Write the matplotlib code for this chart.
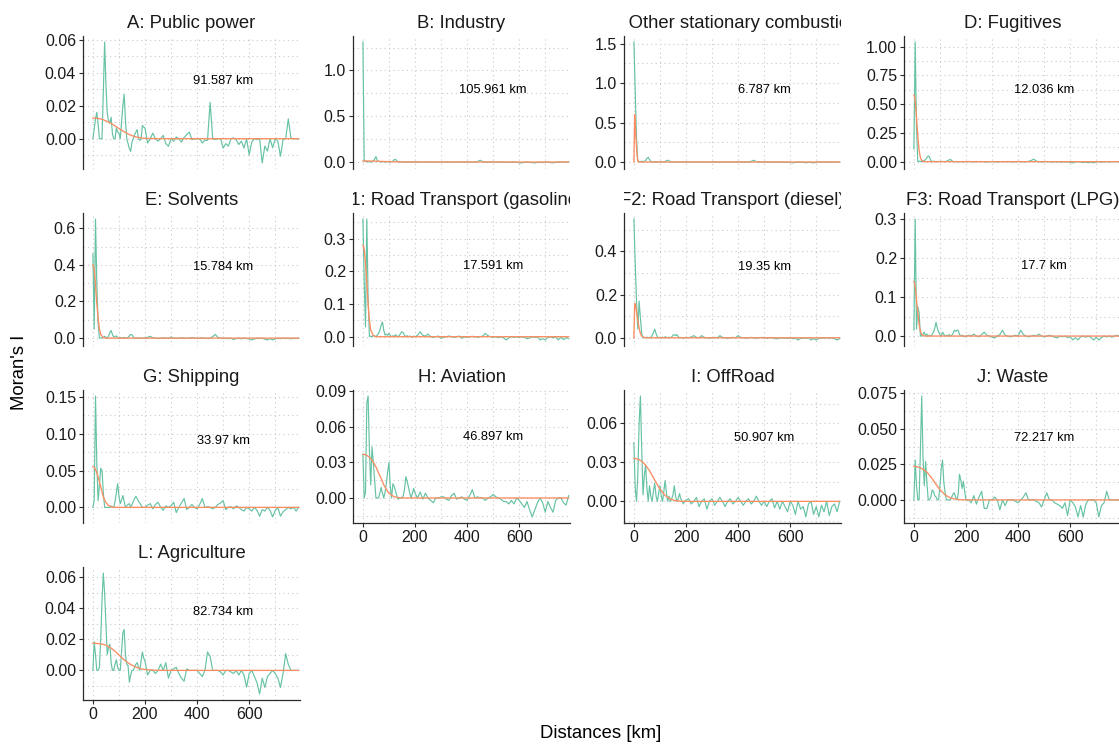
import numpy as np
import matplotlib
matplotlib.use("Agg")
import matplotlib.pyplot as plt
from matplotlib.ticker import FixedLocator

plt.rcParams['font.family'] = ['Liberation Sans', 'DejaVu Sans']

# lag distances (km) of the empirical correlogram
DIST = list(range(0, 201, 5)) + list(range(210, 791, 10))
# distances at which the fitted curve is evaluated
FIT_D = [0, 3, 6, 9, 12, 15, 20, 25, 30, 40, 50, 60, 70, 80, 90, 100,
         120, 140, 160, 180, 200, 250, 790]

TITLES = ["A: Public power", "B: Industry", "C: Other stationary combustion",
          "D: Fugitives", "E: Solvents", "F1: Road Transport (gasoline)",
          "F2: Road Transport (diesel)", "F3: Road Transport (LPG)",
          "G: Shipping", "H: Aviation", "I: OffRoad", "J: Waste",
          "L: Agriculture"]
RANGES = ["91.587", "105.961", "6.787", "12.036", "15.784", "17.591",
          "19.35", "17.7", "33.97", "46.897", "50.907", "72.217", "82.734"]

# Moran's I per lag
moran_A = [0.0, 0.006, 0.012, 0.016, 0.009, 0.0, 0.0, 0.0, 0.028, 0.0586,
           0.033, 0.0155, 0.011, 0.0095, 0.013, 0.003, 0.0, 0.0, 0.0065, 0.004,
           0.0035, 0.0, 0.01, 0.02, 0.027, 0.011, 0.0, -0.003, -0.006, -0.0077,
           -0.002, 0.0, 0.0024, 0.004, 0.0055, 0.0, -0.001, 0.0, 0.008, 0.007, 0.0065,
           -0.0026, 0.0, 0.0034, 0.0, -0.0015, 0.0, 0.002, -0.003, -0.0046, 0.0,
           -0.0015, 0.001, 0.0, -0.002, 0.0008, 0.0024, 0.004, -0.0005, 0.0, 0.0,
           0.0, -0.0026, -0.001, -0.001, 0.022, 0.0, -0.0005, 0.0, 0.0, -0.0057,
           -0.003, -0.0045, 0.0, 0.0005, -0.0005, -0.0035, -0.0015, -0.0057, 0.0, -0.0097,
           -0.002, 0.0, -0.0005, 0.0, -0.0147, -0.0045, -0.0075, 0.0, -0.0055, 0.0,
           -0.0015, -0.0107, -0.0005, 0.0, 0.012, 0.0005, 0.0, 0.0, 0.0]
moran_B = [1.31, 0.01, 0.005, 0.008, 0.003, 0.005, 0.0, 0.004, 0.01, 0.03,
           0.06, 0.02, 0.004, 0.006, 0.0, 0.003, 0.005, 0.0, 0.002, 0.004,
           0.002, 0.0, 0.005, 0.01, 0.025, 0.03, 0.012, 0.002, 0.0, 0.003,
           0.004, 0.0, -0.002, 0.002, 0.0, 0.003, 0.0, -0.002, 0.002, 0.0, 0.001,
           0.002, 0.0, -0.002, 0.001, 0.003, 0.0, -0.001, 0.002, 0.0, -0.003,
           0.0, 0.002, 0.0, -0.002, 0.001, 0.0, 0.002, -0.001, 0.0, 0.001,
           0.0, -0.002, 0.0, 0.006, 0.02, 0.004, 0.0, -0.002, 0.0, 0.001,
           -0.003, 0.0, 0.001, -0.002, 0.0, -0.004, 0.0, 0.001, -0.003, -0.008,
           -0.01, -0.002, 0.0, -0.004, -0.006, -0.01, -0.004, 0.0, -0.006, -0.002,
           0.0, -0.006, -0.009, -0.002, 0.0, 0.002, 0.0, -0.002, 0.0]
moran_C = [1.52, 0.9, 0.3, 0.01, 0.008, 0.004, 0.01, 0.005, 0.01, 0.02,
           0.045, 0.06, 0.03, 0.005, 0.002, 0.0, 0.004, 0.002, 0.0, 0.003,
           0.0, 0.002, 0.004, 0.0, 0.006, 0.018, 0.022, 0.015, 0.004, 0.0,
           0.002, 0.0, -0.002, 0.001, 0.003, 0.0, 0.0, -0.002, 0.002, 0.0, 0.0,
           0.001, 0.0, -0.002, 0.002, 0.0, -0.001, 0.001, 0.0, -0.002, 0.0,
           0.003, 0.0, -0.002, 0.0, 0.002, 0.0, -0.001, 0.001, 0.0, 0.002,
           0.0, -0.002, 0.0, 0.002, 0.008, 0.022, 0.004, 0.0, -0.002, 0.0,
           0.001, -0.002, 0.0, -0.003, 0.0, -0.002, 0.0, -0.004, -0.002, -0.006,
           -0.012, -0.004, 0.0, -0.002, -0.004, -0.01, -0.003, -0.006, -0.011, -0.002,
           0.0, -0.004, 0.0, -0.003, 0.0, 0.001, 0.0, -0.002, 0.0]
moran_D = [0.11, 1.04, 0.3, 0.0, 0.005, 0.002, 0.0, 0.004, 0.01, 0.02,
           0.035, 0.05, 0.04, 0.01, 0.0, 0.005, 0.002, 0.0, 0.003, 0.0,
           0.002, 0.004, 0.0, 0.002, 0.0, 0.004, 0.008, 0.015, 0.02, 0.01,
           0.002, 0.0, 0.002, 0.0, -0.002, 0.001, 0.0, 0.002, 0.0, -0.001, 0.0,
           0.002, 0.0, -0.001, 0.002, 0.0, 0.001, 0.0, -0.002, 0.0, 0.001,
           0.0, -0.002, 0.0, 0.001, 0.0, 0.002, 0.0, -0.001, 0.0, 0.002,
           0.0, -0.001, 0.0, 0.003, 0.01, 0.022, 0.005, 0.0, -0.002, 0.0,
           0.002, 0.0, -0.003, 0.0, -0.002, 0.0, -0.004, 0.0, -0.003, -0.006,
           -0.011, -0.003, 0.0, -0.002, -0.008, -0.003, -0.01, -0.004, -0.01, -0.002,
           0.0, -0.004, -0.001, 0.0, -0.002, 0.0, 0.001, 0.0, -0.001]
moran_E = [0.46, 0.05, 0.65, 0.3, 0.08, 0.0, 0.002, 0.0, 0.004, 0.01,
           0.005, 0.0, 0.01, 0.03, 0.042, 0.02, 0.005, 0.008, 0.012, 0.004,
           0.0, 0.003, 0.002, 0.0, 0.004, 0.002, 0.0, 0.004, 0.012, 0.02,
           0.018, 0.006, 0.0, 0.002, -0.001, 0.0, 0.002, 0.0, -0.002, 0.0, 0.002,
           0.004, 0.01, 0.002, 0.0, -0.002, 0.0, 0.002, 0.0, -0.002, 0.006,
           0.0, -0.002, 0.0, 0.002, 0.0, -0.001, 0.0, 0.003, 0.0, -0.002,
           0.0, 0.002, 0.0, -0.002, 0.0, 0.008, 0.02, 0.003, 0.0, -0.002,
           0.0, -0.003, 0.0, -0.008, -0.002, 0.0, -0.004, 0.0, -0.002, -0.005,
           -0.01, -0.004, 0.0, -0.002, 0.0, -0.006, -0.01, -0.002, -0.01, -0.004,
           0.0, -0.003, 0.0, -0.002, 0.0, -0.004, 0.0, -0.002, 0.0]
moran_F1 = [0.36, 0.17, 0.03, 0.36, 0.12, 0.0, 0.002, 0.0, 0.004, 0.002,
            0.0, 0.005, 0.01, 0.02, 0.035, 0.045, 0.02, 0.005, 0.008, 0.004,
            0.01, 0.004, 0.0, 0.003, 0.0, 0.006, 0.002, 0.0, 0.004, 0.01,
            0.015, 0.012, 0.004, 0.0, 0.003, 0.0, 0.002, 0.0, -0.002, 0.002, 0.0,
            0.004, 0.015, 0.004, 0.002, 0.008, 0.0, -0.002, 0.0, 0.002, -0.005,
            -0.002, 0.0, 0.002, 0.0, -0.002, 0.0, 0.002, -0.005, 0.0, -0.002,
            0.0, 0.001, 0.0, -0.002, 0.0, 0.002, 0.01, 0.003, 0.0, -0.002,
            0.0, -0.003, 0.0, -0.004, -0.01, -0.004, 0.0, -0.002, 0.0, -0.003,
            0.0, -0.002, -0.006, -0.004, 0.0, -0.002, 0.0, -0.01, -0.006, -0.01,
            -0.002, 0.0, -0.004, 0.0, -0.01, -0.002, -0.009, -0.003, -0.006]
moran_F2 = [0.55, 0.35, 0.17, 0.04, 0.17, 0.09, 0.02, 0.0, 0.002, 0.0,
            0.003, 0.0, 0.002, 0.0, 0.01, 0.025, 0.04, 0.02, 0.005, 0.0,
            0.002, 0.0, 0.003, 0.0, 0.005, 0.002, 0.0, 0.003, 0.0, 0.004,
            0.012, 0.015, 0.01, 0.015, 0.005, 0.0, 0.002, 0.0, -0.002, 0.0, 0.002,
            0.0, 0.004, 0.01, 0.002, 0.0, 0.01, 0.002, 0.0, -0.002, 0.0,
            0.002, 0.0, 0.01, 0.002, 0.0, -0.002, 0.0, 0.002, 0.0, 0.01,
            0.002, 0.0, -0.002, 0.0, 0.002, 0.0, -0.002, 0.0, 0.002, 0.0,
            -0.002, 0.0, 0.001, -0.003, -0.005, 0.0, -0.002, 0.0, -0.003, 0.0,
            -0.004, -0.002, -0.01, -0.003, 0.0, -0.002, 0.0, -0.01, -0.004, -0.01,
            -0.003, 0.0, -0.002, 0.0, -0.002, 0.0, -0.004, -0.01, -0.004]
moran_F3 = [0.015, 0.3, 0.018, 0.075, 0.06, 0.0, 0.0, 0.005, 0.01, 0.0,
            0.005, 0.0, 0.002, 0.0, 0.004, 0.01, 0.02, 0.035, 0.02, 0.01,
            0.004, 0.0, 0.01, 0.004, 0.0, 0.002, 0.0, 0.004, 0.0, 0.002,
            0.006, 0.015, 0.012, 0.015, 0.015, 0.004, 0.0, 0.002, 0.0, -0.002, 0.0,
            0.002, 0.0, 0.005, 0.0, -0.002, 0.004, 0.01, 0.002, 0.0, -0.003,
            -0.005, 0.0, 0.004, 0.015, 0.002, 0.0, -0.002, 0.0, 0.002, 0.0,
            0.015, 0.004, 0.0, -0.002, 0.0, 0.002, 0.0, 0.005, 0.0, -0.002,
            0.0, 0.002, 0.0, -0.003, -0.005, 0.0, -0.002, 0.0, -0.004, -0.002,
            -0.01, -0.004, -0.01, -0.002, 0.0, -0.003, 0.0, -0.004, -0.01, -0.003,
            -0.01, -0.004, 0.0, -0.002, 0.0, -0.003, 0.0, 0.002, 0.0]
moran_G = [0.0, 0.01, 0.151, 0.06, 0.009, 0.03, 0.053, 0.05, 0.02, 0.0,
           0.0, 0.0, 0.0, 0.0, 0.002, 0.0, 0.0, 0.008, 0.02, 0.032,
           0.015, 0.005, 0.01, 0.016, 0.008, 0.0, 0.002, 0.004, 0.005, 0.0,
           0.004, 0.008, 0.012, 0.015, 0.012, 0.008, 0.006, 0.003, 0.0, 0.0, 0.0,
           0.003, 0.005, -0.002, 0.004, 0.007, 0.0, -0.004, 0.002, 0.0, 0.002,
           0.007, -0.007, 0.0, 0.006, 0.012, -0.003, 0.0, 0.004, 0.0, -0.002,
           0.004, 0.012, 0.0, 0.001, 0.0, -0.002, 0.0, 0.004, 0.006, 0.009,
           -0.003, 0.0, 0.001, -0.002, 0.002, 0.0, -0.003, -0.005, 0.0, -0.002,
           -0.005, 0.0, -0.004, -0.012, -0.003, -0.005, 0.0, -0.004, -0.013, -0.004,
           0.0, -0.012, -0.006, -0.003, 0.0, -0.002, 0.0, -0.005, 0.0]
moran_H = [0.037, 0.0, 0.005, 0.08, 0.086, 0.04, 0.011, 0.043, 0.03, 0.015,
           0.0, 0.0, 0.0, 0.004, 0.009, 0.004, 0.0, 0.005, 0.012, 0.022,
           0.03, 0.01, 0.0, 0.012, 0.01, 0.006, 0.002, -0.001, 0.0, 0.0,
           0.0, 0.002, 0.008, 0.018, 0.014, 0.009, 0.004, 0.0, 0.004, 0.008, 0.004,
           0.0, 0.005, -0.001, 0.004, 0.0, -0.002, -0.004, 0.0, 0.0, 0.001,
           0.001, -0.001, -0.002, 0.002, 0.004, -0.001, 0.0, 0.001, -0.001, -0.002,
           0.002, 0.007, 0.0, 0.001, 0.0, 0.0, -0.002, 0.0, 0.001, 0.003,
           0.001, 0.0, -0.001, -0.003, -0.003, -0.005, -0.002, -0.005, 0.0, -0.002,
           -0.005, -0.008, -0.003, -0.01, -0.016, -0.01, -0.004, 0.0, -0.004, -0.012,
           -0.003, -0.008, -0.012, -0.002, 0.0, 0.0, -0.004, -0.006, 0.002]
moran_I = [0.045, 0.01, 0.0, 0.02, 0.06, 0.081, 0.04, 0.005, 0.02, 0.028,
           0.01, 0.0, 0.012, 0.004, 0.0, 0.008, 0.014, 0.004, 0.0, 0.006,
           0.012, 0.004, 0.0, 0.008, 0.016, 0.006, 0.0, 0.004, 0.0, 0.002,
           0.005, 0.012, 0.004, 0.0, 0.002, 0.006, 0.002, 0.0, -0.002, 0.0, 0.001,
           0.002, -0.002, 0.0, 0.003, -0.004, 0.0, 0.002, -0.006, 0.0, 0.002,
           -0.003, 0.0, 0.003, 0.0, -0.004, 0.0, 0.002, -0.002, 0.0, 0.003,
           0.0, -0.003, 0.0, 0.002, -0.002, 0.0, 0.004, 0.0, -0.003, 0.0,
           -0.004, 0.0, 0.002, -0.005, 0.0, -0.006, 0.0, -0.004, -0.008, 0.0,
           -0.003, -0.01, 0.0, -0.006, -0.004, -0.012, -0.002, 0.0, -0.01, -0.004,
           -0.012, -0.003, -0.008, 0.0, -0.011, -0.004, -0.002, -0.008, 0.0]
moran_J = [0.0, 0.028, 0.01, 0.0, 0.0, 0.035, 0.073, 0.03, 0.01, 0.027,
           0.012, 0.0, 0.0, 0.002, 0.007, 0.006, 0.003, 0.002, 0.0, 0.0,
           0.01, 0.022, 0.028, 0.012, 0.005, 0.0, 0.0, 0.0, 0.0, 0.002,
           0.004, 0.005, 0.002, 0.0, 0.004, 0.018, 0.014, 0.008, 0.013, 0.006, 0.0,
           0.0, -0.002, 0.003, -0.003, 0.002, 0.006, -0.006, -0.006, 0.0, 0.0,
           0.002, 0.0, -0.007, 0.0, -0.004, 0.0, 0.0, 0.0, -0.001, -0.002,
           0.0, 0.002, 0.005, 0.0, 0.0, 0.0, -0.001, -0.002, -0.005, 0.0,
           0.005, 0.0, 0.0, -0.002, -0.003, -0.004, -0.006, -0.002, -0.011, 0.0,
           -0.002, -0.005, -0.012, -0.004, -0.012, -0.003, 0.0, 0.0, 0.0, -0.002,
           -0.012, -0.004, -0.002, 0.006, 0.0, 0.0, 0.0, 0.0, 0.0]
moran_L = [0.0, 0.0184, 0.01, 0.0, 0.0, 0.002, 0.02, 0.045, 0.0628, 0.05,
           0.03, 0.0102, 0.015, 0.0169, 0.005, 0.0, 0.0, 0.004, 0.0069, 0.002,
           0.0, 0.0, 0.012, 0.0243, 0.0264, 0.01, 0.004, 0.003, -0.0076, -0.003,
           0.0, 0.0, 0.002, 0.004, 0.005, 0.002, 0.0, 0.006, 0.0119, 0.008, 0.006,
           -0.003, 0.0, 0.0, -0.002, 0.0, 0.004, 0.0, 0.005, -0.005, 0.0,
           0.001, 0.002, -0.002, -0.005, -0.007, 0.001, 0.0, 0.0, 0.0, 0.0,
           -0.002, -0.004, 0.0, 0.0119, 0.009, 0.0, 0.0, 0.0, -0.001, -0.003,
           0.0, 0.0, -0.001, -0.002, 0.0, -0.003, 0.0, -0.003, -0.0108, -0.002,
           0.0, -0.004, -0.008, -0.0152, -0.005, -0.011, -0.004, -0.002, 0.0, -0.002,
           -0.005, -0.011, -0.002, 0.0108, 0.004, 0.0, 0.0, 0.0, 0.0]

# fitted model values at FIT_D
fit_A = [0.0125, 0.0125, 0.0125, 0.0125, 0.0124, 0.0124, 0.0123, 0.0121, 0.012, 0.0115, 0.0108,
         0.0101, 0.0092, 0.0083, 0.0072, 0.0062, 0.0042, 0.0025, 0.0013, 0.0006, 0.0002, 0.0, 0.0]
fit_B = [0.012, 0.012, 0.012, 0.0119, 0.0118, 0.0117, 0.0115, 0.0112, 0.011, 0.0102, 0.0093,
         0.0083, 0.0073, 0.0063, 0.0053, 0.0044, 0.0028, 0.0016, 0.0008, 0.0004, 0.0002, 0.0, 0.0]
fit_C = [0.0, 0.6, 0.42, 0.25, 0.09, 0.01, 0.0, 0.0, 0.0, 0.0, 0.0,
         0.0, 0.0, 0.0, 0.0, 0.0, 0.0, 0.0, 0.0, 0.0, 0.0, 0.0, 0.0]
fit_D = [0.58, 0.56, 0.5, 0.42, 0.32, 0.22, 0.1, 0.035, 0.01, 0.0, 0.0,
         0.0, 0.0, 0.0, 0.0, 0.0, 0.0, 0.0, 0.0, 0.0, 0.0, 0.0, 0.0]
fit_E = [0.40, 0.39, 0.36, 0.31, 0.25, 0.19, 0.11, 0.05, 0.02, 0.003, 0.0,
         0.0, 0.0, 0.0, 0.0, 0.0, 0.0, 0.0, 0.0, 0.0, 0.0, 0.0, 0.0]
fit_F1 = [0.28, 0.275, 0.26, 0.235, 0.2, 0.165, 0.1, 0.05, 0.02, 0.003, 0.0,
          0.0, 0.0, 0.0, 0.0, 0.0, 0.0, 0.0, 0.0, 0.0, 0.0, 0.0, 0.0]
fit_F2 = [0.0, 0.16, 0.15, 0.13, 0.105, 0.08, 0.045, 0.02, 0.008, 0.001, 0.0,
          0.0, 0.0, 0.0, 0.0, 0.0, 0.0, 0.0, 0.0, 0.0, 0.0, 0.0, 0.0]
fit_F3 = [0.14, 0.135, 0.12, 0.1, 0.08, 0.06, 0.03, 0.012, 0.004, 0.0, 0.0,
          0.0, 0.0, 0.0, 0.0, 0.0, 0.0, 0.0, 0.0, 0.0, 0.0, 0.0, 0.0]
fit_G = [0.055, 0.0548, 0.0538, 0.052, 0.0497, 0.047, 0.0415, 0.0349, 0.0281, 0.0139, 0.0065,
         0.0025, 0.0008, 0.0002, 0.0, 0.0, 0.0, 0.0, 0.0, 0.0, 0.0, 0.0, 0.0]
fit_H = [0.0368, 0.0368, 0.0367, 0.0365, 0.0362, 0.0359, 0.0352, 0.0345, 0.0332, 0.0302, 0.0262,
         0.0212, 0.0165, 0.0112, 0.0072, 0.004, 0.001, 0.0002, 0.0, 0.0, 0.0, 0.0, 0.0]
fit_I = [0.033, 0.033, 0.0329, 0.0328, 0.0326, 0.0324, 0.032, 0.0315, 0.0308, 0.029, 0.0265,
         0.0235, 0.02, 0.0163, 0.0128, 0.0095, 0.0045, 0.0017, 0.0005, 0.0001, 0.0, 0.0, 0.0]
fit_J = [0.0235, 0.0235, 0.0235, 0.0234, 0.0233, 0.0232, 0.0229, 0.0225, 0.0221, 0.0209, 0.0195,
         0.0173, 0.015, 0.0122, 0.0097, 0.0072, 0.0035, 0.0014, 0.0005, 0.0001, 0.0, 0.0, 0.0]
fit_L = [0.0175, 0.0175, 0.0175, 0.0175, 0.0174, 0.0174, 0.0173, 0.0172, 0.0171, 0.0168, 0.0162,
         0.0154, 0.0143, 0.013, 0.0115, 0.0099, 0.0068, 0.0043, 0.0025, 0.0012, 0.0005, 0.0, 0.0]

# y tick labels per panel
YTICKS = [
    ["0.00", "0.02", "0.04", "0.06"],
    ["0.0", "0.5", "1.0"],
    ["0.0", "0.5", "1.0", "1.5"],
    ["0.00", "0.25", "0.50", "0.75", "1.00"],
    ["0.0", "0.2", "0.4", "0.6"],
    ["0.0", "0.1", "0.2", "0.3"],
    ["0.0", "0.2", "0.4"],
    ["0.0", "0.1", "0.2", "0.3"],
    ["0.00", "0.05", "0.10", "0.15"],
    ["0.00", "0.03", "0.06", "0.09"],
    ["0.00", "0.03", "0.06"],
    ["0.000", "0.025", "0.050", "0.075"],
    ["-0.02", "0.00", "0.02", "0.04", "0.06"],
]
XTICKS = [0, 200, 400, 600]

MORAN = [moran_A, moran_B, moran_C, moran_D, moran_E, moran_F1, moran_F2,
         moran_F3, moran_G, moran_H, moran_I, moran_J, moran_L]
FITS = [fit_A, fit_B, fit_C, fit_D, fit_E, fit_F1, fit_F2, fit_F3, fit_G,
        fit_H, fit_I, fit_J, fit_L]

GREEN = "#66C2A5"
ORANGE = "#FC8D62"
GRID = "#C9C9C9"
TXT = "#1A1A1A"

W, H = 1119, 744
fig = plt.figure(figsize=(W / 100, H / 100), dpi=100)
fig.patch.set_facecolor("white")

COL_LEFT = [83, 353, 624, 904]
ROW_TOP = [36, 213, 390, 567]
PW, PH = 217, 133
NCOL = 4
n = len(TITLES)


def box(left, top, w, h):
    return [left / W, 1 - (top + h) / H, w / W, h / H]


for i in range(n):
    r, c = divmod(i, NCOL)
    bottom_row = (i + NCOL) >= n
    ax = fig.add_axes(box(COL_LEFT[c], ROW_TOP[r], PW, PH))
    ax.set_facecolor("none")

    g = np.array(MORAN[i])
    f = np.array(FITS[i])
    ax.plot(DIST, g, color=GREEN, lw=0.85, zorder=3)
    ax.plot(FIT_D, f, color=ORANGE, lw=0.95, zorder=4)

    lo = min(g.min(), f.min())
    hi = max(g.max(), f.max())
    pad = 0.05 * (hi - lo)
    ax.set_ylim(lo - pad, hi + pad)
    ax.set_xlim(-38, 795)

    labels = YTICKS[i]
    ticks = [float(t) for t in labels]
    step = ticks[1] - ticks[0]
    minors = [t + step / 2 for t in [ticks[0] - step] + ticks]
    ax.yaxis.set_major_locator(FixedLocator(ticks))
    ax.set_yticklabels([t.replace("-", "\u2212") for t in labels])
    ax.yaxis.set_minor_locator(FixedLocator(minors))
    ax.xaxis.set_major_locator(FixedLocator(XTICKS))
    ax.xaxis.set_minor_locator(FixedLocator([100, 300, 500, 700]))
    ax.set_xticklabels([str(x) for x in XTICKS])

    ax.grid(True, which="both", color=GRID, lw=0.8, ls=(0, (1, 3)), zorder=0)
    ax.set_axisbelow(True)

    for s in ("top", "right"):
        ax.spines[s].set_visible(False)
    ax.spines["left"].set_color("#2B2B2B")
    ax.spines["left"].set_linewidth(0.9)
    ax.spines["bottom"].set_color("#2B2B2B")
    ax.spines["bottom"].set_linewidth(0.9)
    ax.spines["bottom"].set_visible(bottom_row)

    ax.tick_params(axis="y", which="major", length=3, width=0.8, color="#2B2B2B",
                   labelsize=11.5, labelcolor=TXT, pad=2)
    ax.tick_params(axis="x", which="major", length=3, width=0.8, color="#2B2B2B",
                   labelsize=11.5, labelcolor=TXT, pad=2,
                   bottom=bottom_row, labelbottom=bottom_row)
    ax.tick_params(which="minor", length=0)

    ax.text(500, 0.6 * g.max(), f"{RANGES[i]} km", ha="center", va="center",
            fontsize=9.3, color="black", zorder=5)

    # strip title, clipped to the panel width
    sax = fig.add_axes(box(COL_LEFT[c], ROW_TOP[r] - 26, PW, 26))
    sax.axis("off")
    sax.text(0.5, 0.5, TITLES[i], transform=sax.transAxes, ha="center",
             va="center", fontsize=13.3, color=TXT, clip_on=True)

fig.text(20 / W, 1 - 372 / H, "Moran's I", rotation=90, ha="center",
         va="center", fontsize=13.3, color="black")
fig.text(601 / W, 1 - 734 / H, "Distances [km]", ha="center", va="center",
         fontsize=13.3, color="black")

fig.savefig("out.png", dpi=100, facecolor="white")
